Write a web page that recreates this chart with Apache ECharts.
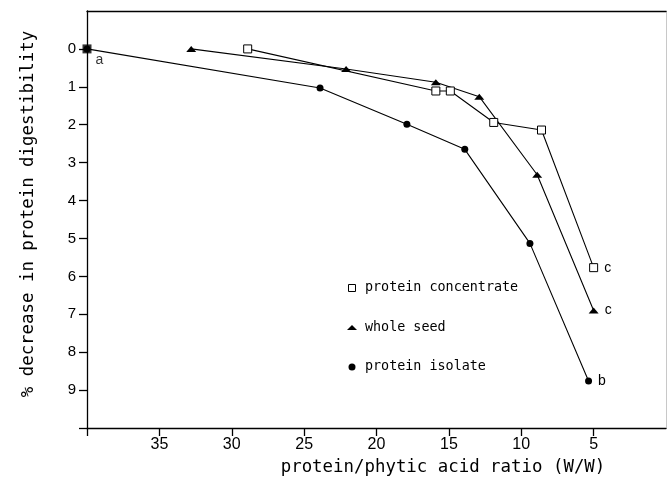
<!DOCTYPE html>
<html>
<head>
<meta charset="utf-8">
<script src="https://cdn.jsdelivr.net/npm/echarts@6/dist/echarts.min.js"></script>
<style>html,body{margin:0;padding:0;background:#fff;}#c{width:667px;height:477px;}</style>
</head>
<body>
<div id="c"></div>
<script>
// ---- data (x = protein/phytic acid ratio, y = % decrease in protein digestibility)
const seriesNames = ['protein concentrate', 'whole seed', 'protein isolate'];
const concentrate = [[28.9, 0], [15.9, 1.11], [14.9, 1.11], [11.9, 1.94], [8.6, 2.14], [5.0, 5.77]];
const wholeSeed   = [[32.8, 0], [22.1, 0.53], [15.9, 0.88], [12.9, 1.26], [8.9, 3.32], [5.0, 6.9]];
const isolate     = [[40, 0], [23.9, 1.03], [17.9, 1.99], [13.9, 2.65], [9.4, 5.13], [5.35, 8.76]];
const control     = [[40, 0]];
const endLetters  = { concentrate: 'c', wholeSeed: 'c', isolate: 'b', control: 'a' };
const xTickValues  = [40, 35, 30, 25, 20, 15, 10, 5];
const xLabelValues = [35, 30, 25, 20, 15, 10, 5];
const yTickValues  = [0, 1, 2, 3, 4, 5, 6, 7, 8, 9, 10];
const yLabelValues = [0, 1, 2, 3, 4, 5, 6, 7, 8, 9];
const xTitle = 'protein/phytic acid ratio (W/W)';
const yTitle = '% decrease in protein digestibility';

const MONO = '"DejaVu Sans Mono", "Liberation Mono", monospace';
const SANS = '"Liberation Sans", Arial, sans-serif';

function withEndLabel(arr, letter) {
  return arr.map((p, i) => i === arr.length - 1
    ? { value: p, label: { show: true, formatter: letter, position: 'right', distance: 6,
        color: '#000', fontFamily: SANS, fontSize: 14 } }
    : p);
}

const chart = echarts.init(document.getElementById('c'), null, { renderer: 'canvas' });
const axisLineStyle = { color: '#000', width: 1.3 };
chart.setOption({
  animation: false,
  backgroundColor: '#fff',
  grid: { left: 87, right: 1, top: 11, bottom: 49, outerBoundsMode: 'none' },
  xAxis: [{
    type: 'value', inverse: true, min: 0, max: 40, interval: 5, position: 'bottom',
    axisLine: { show: true, lineStyle: axisLineStyle, onZero: false },
    axisTick: { show: true, inside: false, length: 8, lineStyle: axisLineStyle, customValues: xTickValues },
    axisLabel: { show: true, customValues: xLabelValues, margin: 9, color: '#000', fontFamily: SANS, fontSize: 16 },
    splitLine: { show: false }
  }, {
    type: 'value', inverse: true, min: 0, max: 40, position: 'top',
    axisLine: { show: true, lineStyle: { color: '#000', width: 1.3 }, onZero: false },
    axisTick: { show: false }, axisLabel: { show: false }, splitLine: { show: false }
  }],
  yAxis: [{
    type: 'value', inverse: true, min: -1, max: 10, interval: 1, position: 'left',
    axisLine: { show: true, lineStyle: axisLineStyle, onZero: false },
    axisTick: { show: true, inside: false, length: 8, lineStyle: axisLineStyle, customValues: yTickValues },
    axisLabel: { show: true, customValues: yLabelValues, margin: 11, color: '#000', fontFamily: SANS, fontSize: 15 },
    splitLine: { show: false }
  }, {
    type: 'value', inverse: true, min: -1, max: 10, position: 'right',
    axisLine: { show: true, lineStyle: { color: '#c8c8c8', width: 1 }, onZero: false },
    axisTick: { show: false }, axisLabel: { show: false }, splitLine: { show: false }
  }],
  legend: {
    orient: 'vertical', left: 347, top: 280, padding: 0,
    itemWidth: 10, itemHeight: 7, itemGap: 23.5, symbolKeepAspect: true,
    textStyle: { color: '#000', fontFamily: MONO, fontSize: 13.4, lineHeight: 16, padding: [0, 0, 0, 3] },
    data: [
      { name: seriesNames[0], icon: 'path://M0,0L10,0L10,10L0,10Z',
        itemStyle: { color: '#fff', borderColor: '#000', borderWidth: 1 } },
      { name: seriesNames[1], icon: 'path://M5,0L10,5L0,5Z', itemStyle: { color: '#000', borderWidth: 0 } },
      { name: seriesNames[2], icon: 'circle', itemStyle: { color: '#000', borderWidth: 0 } }
    ]
  },
  series: [{
    name: seriesNames[0], type: 'line', data: withEndLabel(concentrate, endLetters.concentrate),
    symbol: 'rect', symbolSize: 8,
    itemStyle: { color: '#fff', borderColor: '#000', borderWidth: 1 },
    lineStyle: { color: '#000', width: 1.1 }, z: 3
  }, {
    name: seriesNames[1], type: 'line', data: withEndLabel(wholeSeed, endLetters.wholeSeed),
    symbol: 'triangle', symbolSize: [10, 6],
    itemStyle: { color: '#000', borderWidth: 0 },
    lineStyle: { color: '#000', width: 1.1 }, z: 2
  }, {
    name: seriesNames[2], type: 'line', data: withEndLabel(isolate, endLetters.isolate),
    symbol: 'circle', symbolSize: 7,
    itemStyle: { color: '#000', borderWidth: 0 },
    lineStyle: { color: '#000', width: 1.1 }, z: 2
  }, {
    name: 'control', type: 'scatter', symbol: 'rect', symbolSize: 9,
    itemStyle: { color: '#000' }, z: 5,
    data: control.map(p => ({ value: p, label: { show: true, formatter: endLetters.control,
      position: [17, 15.5], align: 'center', verticalAlign: 'middle',
      color: '#000', fontFamily: SANS, fontSize: 14 } }))
  }],
  graphic: [{
    type: 'text', x: 443, y: 467,
    style: { text: xTitle, font: '17.4px ' + MONO, fill: '#000', align: 'center', verticalAlign: 'middle' }
  }, {
    type: 'text', x: 28, y: 214, rotation: Math.PI / 2,
    style: { text: yTitle, font: '17.4px ' + MONO, fill: '#000', align: 'center', verticalAlign: 'middle' }
  }]
});
</script>
</body>
</html>
